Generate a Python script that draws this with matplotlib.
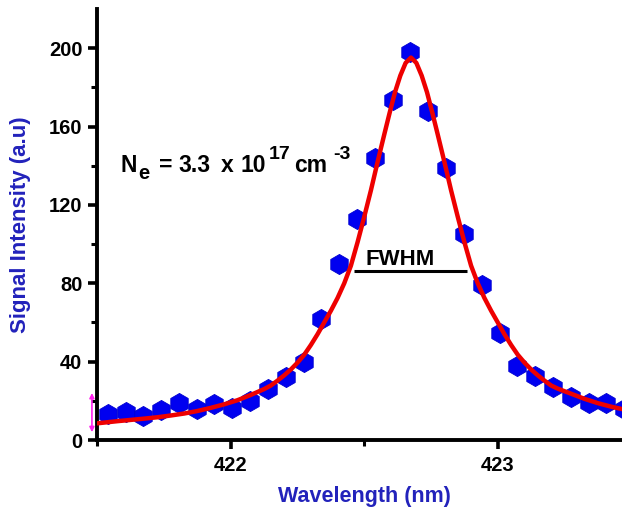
import matplotlib
matplotlib.use("Agg")
import matplotlib.pyplot as plt
import matplotlib.transforms as mtransforms
from matplotlib.ticker import FixedLocator, MultipleLocator

plt.rcParams['font.family'] = ['Liberation Sans', 'DejaVu Sans']
plt.rcParams['font.weight'] = 'bold'

# Measured emission line profile
wavelength = [421.540, 421.607, 421.673, 421.740, 421.807, 421.874, 421.940,
              422.007, 422.074, 422.140, 422.207, 422.274, 422.340, 422.407,
              422.474, 422.540, 422.607, 422.674, 422.741, 422.807, 422.874,
              422.941, 423.008, 423.074, 423.141, 423.208, 423.274, 423.341,
              423.408, 423.475]
intensity = [13.5, 14.5, 12.0, 15.5, 19.0, 16.0, 18.5,
             16.5, 20.0, 26.0, 32.0, 40.0, 62.0, 90.0,
             113.0, 144.0, 173.5, 198.0, 168.0, 139.0, 105.0,
             79.0, 54.6, 37.8, 32.7, 27.0, 22.0, 19.0,
             19.0, 16.0]

# Lorentzian fit line
fit_wavelength = [421.500, 421.576, 421.676, 421.726, 421.776, 421.826,
                  421.876, 421.926, 421.976, 422.026, 422.076, 422.126,
                  422.151, 422.176, 422.201, 422.226, 422.251, 422.276,
                  422.301, 422.326, 422.351, 422.376, 422.401, 422.426,
                  422.451, 422.476, 422.501, 422.526, 422.551, 422.576,
                  422.596, 422.616, 422.636, 422.656, 422.676, 422.696,
                  422.716, 422.736, 422.756, 422.776, 422.801, 422.826,
                  422.851, 422.876, 422.901, 422.926, 422.951, 422.976,
                  423.001, 423.026, 423.051, 423.076, 423.101, 423.126,
                  423.151, 423.176, 423.201, 423.226, 423.276, 423.326,
                  423.376, 423.426, 423.476, 423.500]
fit_intensity = [8.5, 9.6, 10.9, 11.6, 12.5, 13.5,
                 14.8, 16.4, 18.2, 20.3, 23.0, 26.0,
                 27.8, 30.3, 33.0, 36.0, 39.5, 43.5,
                 48.5, 54.0, 60.0, 66.0, 72.5, 80.0,
                 89.0, 101.0, 114.0, 127.5, 142.0, 156.0,
                 167.0, 177.5, 186.0, 192.5, 195.2, 192.5,
                 186.0, 177.5, 167.0, 156.0, 142.0, 127.5,
                 114.0, 101.0, 89.0, 80.0, 72.5, 66.0,
                 60.0, 54.0, 48.5, 43.5, 39.5, 36.0,
                 33.0, 30.3, 27.8, 26.2, 23.6, 21.0,
                 18.8, 17.0, 15.5, 15.0]

y_major = [0, 40, 80, 120, 160, 200]
y_minor = [20, 60, 100, 140, 180]
x_major = [422, 423]

fig = plt.figure(figsize=(6.22, 5.09), dpi=100)
ax = fig.add_axes([97 / 622, 69 / 509, 534 / 622, 431 / 509])

ax.plot(wavelength, intensity, linestyle='none', marker='h', markersize=14.5,
        color='#0000f0', markeredgecolor='#0000d0', markeredgewidth=0.6,
        zorder=2)
ax.plot(fit_wavelength, fit_intensity, color='#ee0000', linewidth=3.2,
        solid_joinstyle='round', zorder=3)

ax.set_xlim(421.5, 423.5)
ax.set_ylim(0, 220)

for side in ('top', 'right'):
    ax.spines[side].set_visible(False)
for side in ('left', 'bottom'):
    ax.spines[side].set_linewidth(2.8)

ax.yaxis.set_major_locator(FixedLocator(y_major))
ax.yaxis.set_minor_locator(FixedLocator(y_minor))
ax.xaxis.set_major_locator(FixedLocator(x_major))
ax.xaxis.set_minor_locator(MultipleLocator(0.5))
ax.tick_params(which='major', direction='out', length=6.5, width=2.6,
               labelsize=14.5, pad=4)
ax.tick_params(which='minor', direction='out', length=4, width=2.2)
ax.tick_params(axis='x', which='major', pad=5)
for lab in ax.get_xticklabels() + ax.get_yticklabels():
    lab.set_fontweight('bold')

label_color = '#2222bb'
ax.set_xlabel('Wavelength (nm)', fontsize=15.5, fontweight='bold',
              color=label_color, labelpad=8)
ax.set_ylabel('Signal Intensity (a.u)', fontsize=16, fontweight='bold',
              color=label_color, labelpad=13)

# Electron density annotation, set piece by piece (offsets in points)
anchor = (421.588, 136.7)
pieces = [
    ('N', 0.0, 0.0, 16.5),
    ('e', 13.0, -5.0, 14.5),
    ('=', 27.5, 0.0, 16.5),
    ('3.3', 42.0, 0.0, 16.5),
    ('x', 72.0, 0.0, 16.5),
    ('10', 86.5, 0.0, 16.5),
    ('17', 107.0, 9.5, 14.0),
    ('cm', 125.0, 0.0, 16.5),
    ('-3', 153.5, 9.5, 14.0),
]
for txt, dx, dy, size in pieces:
    tr = mtransforms.offset_copy(ax.transData, fig=fig, x=dx, y=dy,
                                 units='points')
    ax.text(anchor[0], anchor[1], txt, transform=tr, fontsize=size,
            fontweight='bold', color='black', ha='left', va='baseline')

ax.text(422.637, 89.5, 'FWHM', fontsize=16, fontweight='bold', color='black',
        ha='center', va='baseline')
ax.plot([422.464, 422.884], [86.2, 86.2], color='black', linewidth=2.2,
        solid_capstyle='butt', zorder=4)

arrow = ax.annotate('', xy=(421.481, 4), xytext=(421.481, 24),
                    arrowprops=dict(arrowstyle='<|-|>', color='#ff22ee',
                                    lw=1.2, mutation_scale=7,
                                    shrinkA=0, shrinkB=0),
                    annotation_clip=False)
arrow.arrow_patch.set_clip_on(False)

fig.savefig('out.png', dpi=100)
